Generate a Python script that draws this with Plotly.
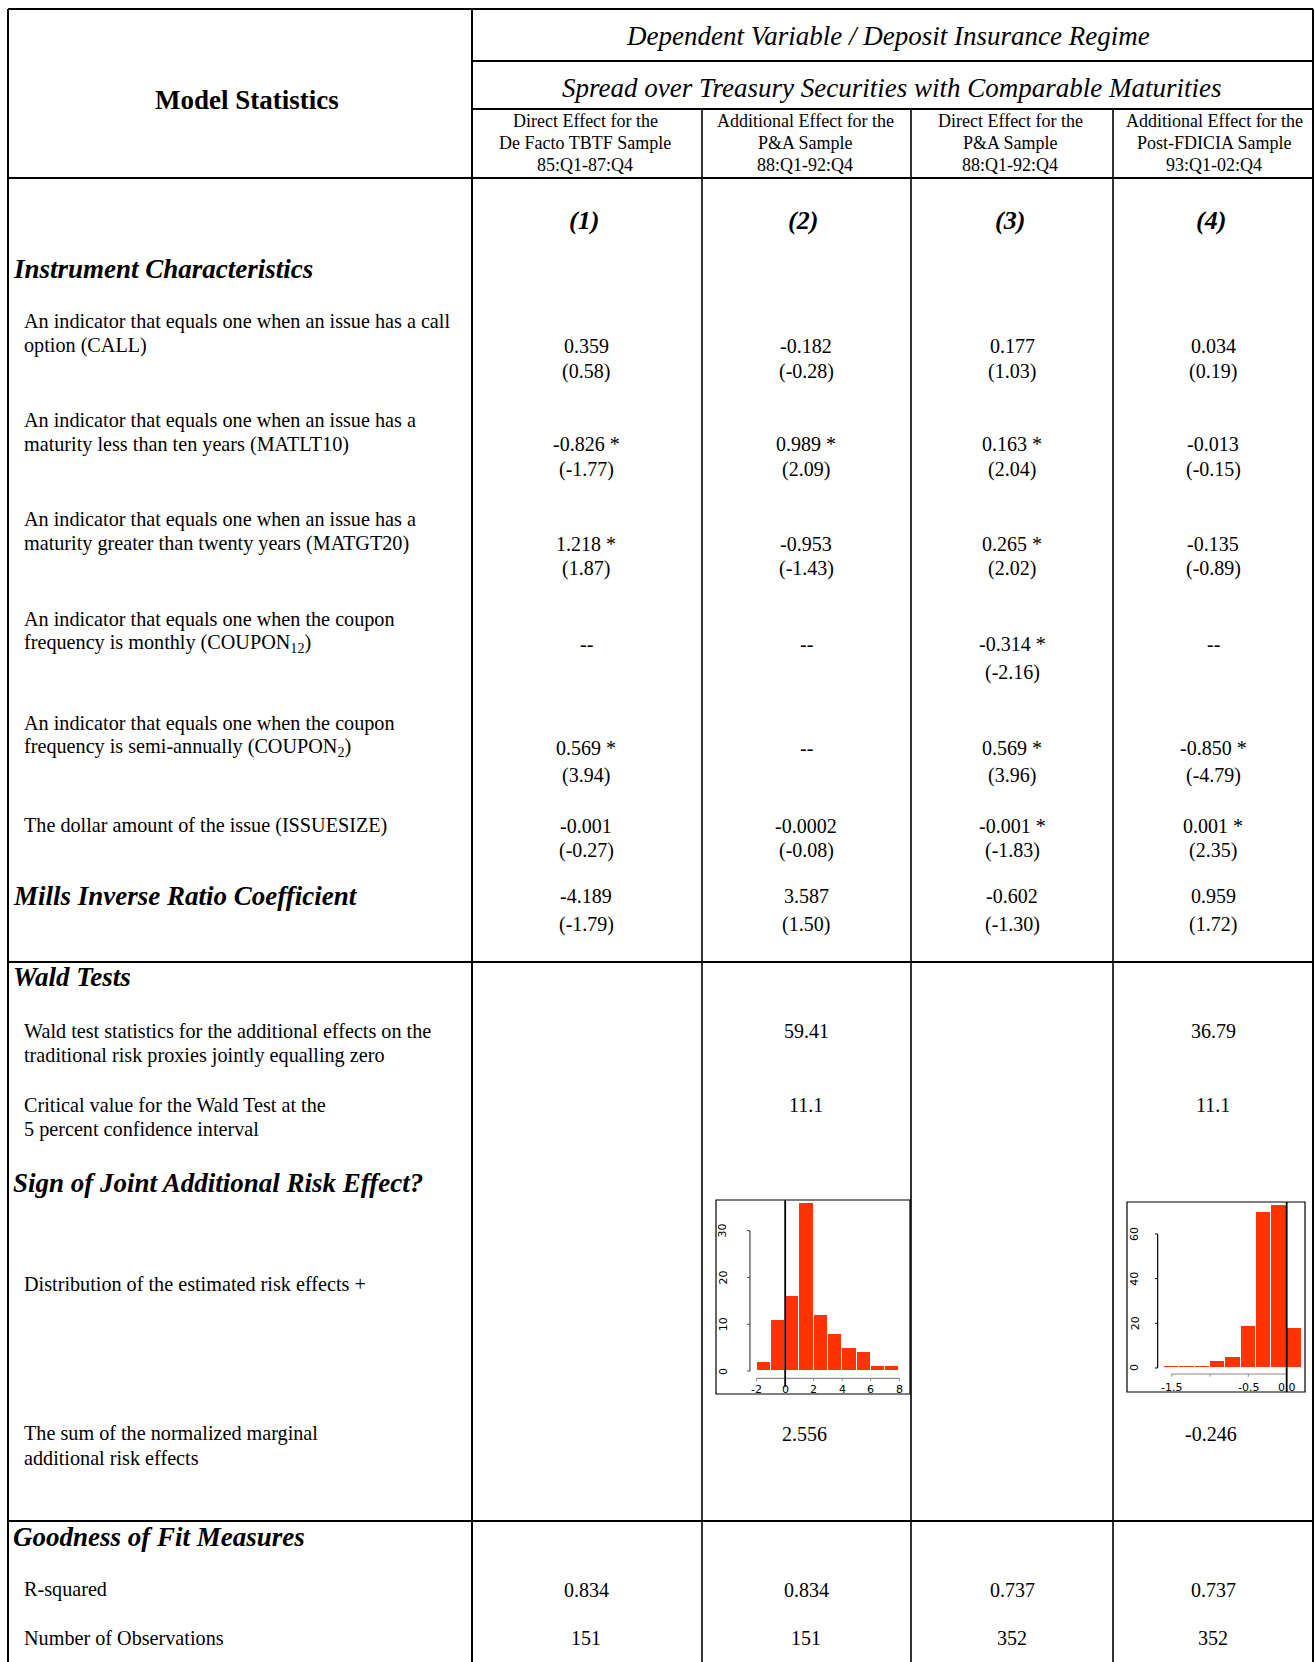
import plotly.graph_objects as go

# ---------------------------------------------------------------- data
col_heads = [
    ["Direct Effect for the", "De Facto TBTF Sample", "85:Q1-87:Q4"],
    ["Additional Effect for the", "P&A Sample", "88:Q1-92:Q4"],
    ["Direct Effect for the", "P&A Sample", "88:Q1-92:Q4"],
    ["Additional Effect for the", "Post-FDICIA Sample", "93:Q1-02:Q4"],
]
col_nums = ["(1)", "(2)", "(3)", "(4)"]

var_labels = [
    ["An indicator that equals one when an issue has a call", "option (CALL)"],
    ["An indicator that equals one when an issue has a", "maturity less than ten years (MATLT10)"],
    ["An indicator that equals one when an issue has a", "maturity greater than twenty years (MATGT20)"],
    ["An indicator that equals one when the coupon", "frequency is monthly (COUPON<sub>12</sub>)"],
    ["An indicator that equals one when the coupon", "frequency is semi-annually (COUPON<sub>2</sub>)"],
    ["The dollar amount of the issue (ISSUESIZE)"],
]
# coefficient estimates per variable (None = not estimated)
coef_call = [0.359, -0.182, 0.177, 0.034]
coef_matlt10 = [-0.826, 0.989, 0.163, -0.013]
coef_matgt20 = [1.218, -0.953, 0.265, -0.135]
coef_coupon12 = [None, None, -0.314, None]
coef_coupon2 = [0.569, None, 0.569, -0.850]
coef_issuesize = [-0.001, -0.0002, -0.001, 0.001]
coef_mills = [-4.189, 3.587, -0.602, 0.959]
# t-statistics
t_call = [0.58, -0.28, 1.03, 0.19]
t_matlt10 = [-1.77, 2.09, 2.04, -0.15]
t_matgt20 = [1.87, -1.43, 2.02, -0.89]
t_coupon12 = [None, None, -2.16, None]
t_coupon2 = [3.94, None, 3.96, -4.79]
t_issuesize = [-0.27, -0.08, -1.83, 2.35]
t_mills = [-1.79, 1.50, -1.30, 1.72]
# significance flags
sig_call = [False, False, False, False]
sig_matlt10 = [True, True, True, False]
sig_matgt20 = [True, False, True, False]
sig_coupon12 = [False, False, True, False]
sig_coupon2 = [True, False, True, True]
sig_issuesize = [False, False, True, True]
sig_mills = [False, False, False, False]

wald_stat = [None, 59.41, None, 36.79]
wald_crit = [None, 11.1, None, 11.1]
risk_sum = [None, 2.556, None, -0.246]
r_squared = [0.834, 0.834, 0.737, 0.737]
n_obs = [151, 151, 352, 352]

# distributions of the estimated risk effects
hist1_edges = [-2, -1, 0, 1, 2, 3, 4, 5, 6, 7, 8]
hist1_counts = [2, 11, 16, 36, 12, 8, 5, 4, 1, 1]
hist1_xticks = [-2, 0, 2, 4, 6, 8]
hist1_yticks = [0, 10, 20, 30]
hist2_edges = [-1.6, -1.4, -1.2, -1.0, -0.8, -0.6, -0.4, -0.2, 0.0, 0.2]
hist2_counts = [1, 1, 1, 3, 5, 19, 70, 73, 18]
hist2_xticks = [-1.5, -1.0, -0.5, 0.0]
hist2_xlabels = ["-1.5", "", "-0.5", "0.0"]
hist2_yticks = [0, 20, 40, 60]

# ---------------------------------------------------------------- canvas
W, H = 1315, 1662
SERIF = "Liberation Serif, Times New Roman, serif"
BAR = "#ff3300"

fig = go.Figure()
fig.add_trace(go.Scatter(x=[0], y=[0], mode="markers", marker=dict(opacity=0),
                         hoverinfo="skip", xaxis="x", yaxis="y"))


def text(x, y, s, size=20, anchor="left", bold=False, italic=False):
    if bold:
        s = f"<b>{s}</b>"
    if italic:
        s = f"<i>{s}</i>"
    fig.add_annotation(x=x, y=y, xref="x", yref="y", text=s, showarrow=False,
                       xanchor=anchor, yanchor="middle",
                       font=dict(family=SERIF, size=size, color="black"))


def line(x0, y0, x1, y1, w=2, ref=("x", "y"), color="black"):
    fig.add_shape(type="line", x0=x0, y0=y0, x1=x1, y1=y1, xref=ref[0], yref=ref[1],
                  line=dict(color=color, width=w))


def fmt_coef(v, star):
    if v is None:
        return "--"
    s = f"{v:.3f}" if round(v, 3) == v else f"{v:g}"
    return s + (" *" if star else "")


def fmt_t(v):
    return None if v is None else f"({v:.2f})"


# ---------------------------------------------------------------- grid
LEFT, RIGHT, TOP, BOTTOM = 8, 1313, 9, 1662
COL_X = [472, 702, 911, 1113, RIGHT]
VAL_X = [586, 806, 1012, 1213]

line(LEFT, TOP, RIGHT, TOP)
line(LEFT, TOP, LEFT, BOTTOM)
line(RIGHT, TOP, RIGHT, BOTTOM)
line(COL_X[0], TOP, COL_X[0], BOTTOM)
for cx in COL_X[1:4]:
    line(cx, 109, cx, BOTTOM, w=1.6)
line(COL_X[0], 61, RIGHT, 61)
line(COL_X[0], 109, RIGHT, 109)
for yy in (178, 962, 1521):
    line(LEFT, yy, RIGHT, yy)

# ---------------------------------------------------------------- header
text(247, 100, "Model Statistics", size=27, anchor="center", bold=True)
text(888, 36, "Dependent Variable / Deposit Insurance Regime", size=27, anchor="center", italic=True)
text(891, 88, "Spread over Treasury Securities with Comparable Maturities", size=27,
     anchor="center", italic=True)
HEAD_CX = [585, 805, 1010, 1214]
for cx, lines in zip(HEAD_CX, col_heads):
    for k, s in enumerate(lines):
        text(cx, 121 + 22 * k, s, size=18, anchor="center")
NUM_CX = [584, 803, 1010, 1211]
for cx, s in zip(NUM_CX, col_nums):
    text(cx, 220, s, size=26, anchor="center", bold=True, italic=True)

# ---------------------------------------------------------------- sections
HEAD_X, LABEL_X, LINE_H = 11, 22, 24.4
text(HEAD_X, 269, "Instrument Characteristics", size=27, bold=True, italic=True)

coef_rows = [
    (coef_call, t_call, sig_call),
    (coef_matlt10, t_matlt10, sig_matlt10),
    (coef_matgt20, t_matgt20, sig_matgt20),
    (coef_coupon12, t_coupon12, sig_coupon12),
    (coef_coupon2, t_coupon2, sig_coupon2),
    (coef_issuesize, t_issuesize, sig_issuesize),
]
# (first label line, coefficient line, t-stat line)
row_y = [(321, 345.5, 371), (420.5, 444, 469.5), (519, 543.5, 568),
         (619, 644, 672), (723.5, 748, 775.5), (825.5, 825.5, 850)]

for lab, (cv, tv, sv), (ly, vy, ty) in zip(var_labels, coef_rows, row_y):
    for k, s in enumerate(lab):
        text(LABEL_X, ly + LINE_H * k, s, size=20.2)
    for j in range(4):
        text(VAL_X[j], vy, fmt_coef(cv[j], sv[j]), anchor="center")
        ts = fmt_t(tv[j])
        if ts:
            text(VAL_X[j], ty, ts, anchor="center")

text(HEAD_X, 895.5, "Mills Inverse Ratio Coefficient", size=27, bold=True, italic=True)
for j in range(4):
    text(VAL_X[j], 895.5, fmt_coef(coef_mills[j], sig_mills[j]), anchor="center")
    text(VAL_X[j], 924, fmt_t(t_mills[j]), anchor="center")

text(HEAD_X, 977, "Wald Tests", size=27, bold=True, italic=True)
text(LABEL_X, 1031, "Wald test statistics for the additional effects on the", size=20.2)
text(LABEL_X, 1055.5, "traditional risk proxies jointly equalling zero", size=20.2)
text(LABEL_X, 1105, "Critical value for the Wald Test at the", size=20.2)
text(LABEL_X, 1129.5, "5 percent confidence interval", size=20.2)
for j in range(4):
    if wald_stat[j] is not None:
        text(VAL_X[j], 1031, f"{wald_stat[j]:g}", anchor="center")
    if wald_crit[j] is not None:
        text(VAL_X[j], 1105, f"{wald_crit[j]:g}", anchor="center")

text(HEAD_X, 1182.5, "Sign of Joint Additional Risk Effect?", size=27, bold=True, italic=True)
text(LABEL_X, 1284, "Distribution of the estimated risk effects +", size=20.2)
text(LABEL_X, 1433.5, "The sum of the normalized marginal", size=20.2)
text(LABEL_X, 1458, "additional risk effects", size=20.2)
for j in range(4):
    if risk_sum[j] is not None:
        text(VAL_X[j] - 2, 1433.5, f"{risk_sum[j]:g}", anchor="center")

text(HEAD_X, 1536.5, "Goodness of Fit Measures", size=27, bold=True, italic=True)
text(LABEL_X, 1589.5, "R-squared", size=20.2)
text(LABEL_X, 1638, "Number of Observations", size=20.2)
for j in range(4):
    text(VAL_X[j], 1589.5, f"{r_squared[j]:.3f}", anchor="center")
    text(VAL_X[j], 1638, f"{n_obs[j]}", anchor="center")


# ---------------------------------------------------------------- histograms
def histogram(idx, edges, counts, box, xr, yr, xticks, xlabels, yticks,
              xaxis_y, yaxis_x, xlab_y, ylab_x, zero_span, ycolor, tick_dx, tick_dy):
    xa, ya = f"x{idx}", f"y{idx}"
    x0, y0, x1, y1 = box
    fig.layout[f"xaxis{idx}"] = dict(domain=[x0 / W, x1 / W], range=xr, visible=False,
                                     anchor=ya, fixedrange=True)
    fig.layout[f"yaxis{idx}"] = dict(domain=[1 - y1 / H, 1 - y0 / H], range=yr, visible=False,
                                     anchor=xa, fixedrange=True)
    centers = [(a + b) / 2 for a, b in zip(edges[:-1], edges[1:])]
    widths = [b - a for a, b in zip(edges[:-1], edges[1:])]
    fig.add_trace(go.Bar(x=centers, y=counts, width=widths, xaxis=xa, yaxis=ya,
                         marker=dict(color=BAR, line=dict(color="white", width=1)),
                         hoverinfo="skip"))
    # frame
    fig.add_shape(type="rect", x0=0, x1=1, y0=0, y1=1, xref=f"{xa} domain",
                  yref=f"{ya} domain", line=dict(color="black", width=1.2))
    # x axis
    line(xticks[0], xaxis_y, xticks[-1], xaxis_y, w=1.2, ref=(xa, ya), color="#8a8a8a")
    for t, lab in zip(xticks, xlabels):
        line(t, xaxis_y, t, xaxis_y - tick_dy, w=1, ref=(xa, ya), color="#8a8a8a")
        if lab:
            fig.add_annotation(x=t, y=xlab_y, xref=xa, yref=ya, text=lab, showarrow=False,
                               xanchor="center", yanchor="middle",
                               font=dict(family="DejaVu Sans", size=11, color="black"))
    # y axis
    line(yaxis_x, yticks[0], yaxis_x, yticks[-1], w=1.2, ref=(xa, ya), color=ycolor)
    for t in yticks:
        line(yaxis_x, t, yaxis_x - tick_dx, t, w=1, ref=(xa, ya), color=ycolor)
        fig.add_annotation(x=ylab_x, y=t, xref=xa, yref=ya, text=str(t), showarrow=False,
                           xanchor="center", yanchor="middle", textangle=-90,
                           font=dict(family="DejaVu Sans", size=11, color="black"))
    # reference line at zero
    line(0, zero_span[0], 0, zero_span[1], w=1.8, ref=(xa, ya), color="black")


histogram(2, hist1_edges, hist1_counts, (716, 1200, 910, 1394), [-4.85, 8.75], [-4.91, 36.54],
          hist1_xticks, [str(t) for t in hist1_xticks], hist1_yticks,
          xaxis_y=-1.56, yaxis_x=-2.47, xlab_y=-4.0, ylab_x=-4.36,
          zero_span=(-3.4, 36.54), ycolor="#444444", tick_dx=0.2, tick_dy=0.6)
histogram(3, hist2_edges, hist2_counts, (1127, 1202, 1305, 1392), [-2.083, 0.239], [-10.75, 74.3],
          hist2_xticks, hist2_xlabels, hist2_yticks,
          xaxis_y=-2.69, yaxis_x=-1.683, xlab_y=-8.8, ylab_x=-1.978,
          zero_span=(-10.75, 74.3), ycolor="black", tick_dx=0.035, tick_dy=1.2)

fig.update_layout(
    width=W, height=H, margin=dict(l=0, r=0, t=0, b=0, pad=0),
    paper_bgcolor="white", plot_bgcolor="rgba(0,0,0,0)", showlegend=False,
    bargap=0,
    xaxis=dict(range=[0, W], domain=[0, 1], visible=False, fixedrange=True),
    yaxis=dict(range=[H, 0], domain=[0, 1], visible=False, fixedrange=True),
)

fig.write_html("out.html", config={"displayModeBar": False})
